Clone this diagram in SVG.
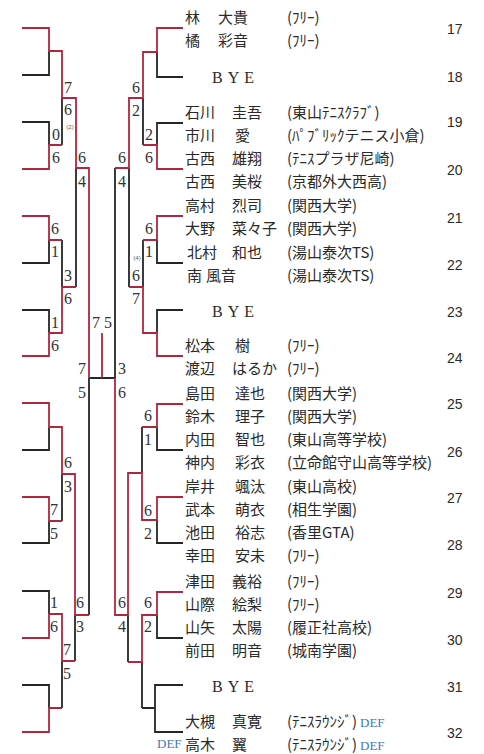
<svg xmlns="http://www.w3.org/2000/svg" width="484" height="754" viewBox="0 0 484 754">
<style>
.k{fill:none;stroke:#262626;stroke-width:1.8}
.r{fill:none;stroke:#b0263f;stroke-width:1.8}
.s{font-family:"Liberation Serif",serif;font-size:16px;fill:#333;text-anchor:middle}
.t{font-family:"Liberation Sans",sans-serif;font-size:6px;fill:#555;text-anchor:middle}
.n{font-family:"Noto Sans CJK JP",sans-serif;font-size:15px;fill:#2a2a2a}
.b{font-family:"Liberation Serif","Noto Sans CJK JP",serif;font-size:16px;fill:#2a2a2a;letter-spacing:5px}
.no{font-family:"Liberation Sans",sans-serif;font-size:14px;fill:#2a2a2a}
.d{font-family:"Liberation Serif",serif;font-size:13px;fill:#3f7ab8}
</style>
<rect width="484" height="754" fill="#fff"/>
<g id="connectors">
<path class="k" d="M22,75H49V51 M22,122H49V145 M62,98V145 M22,263H49V240 M22,310H49V333 M62,240V287 M76,168V287 M22,450H49V427 M22,543H49V521 M62,474V521 M22,591H49V614 M22,685H49V708 M62,661V708 M75,615V661 M89,378V615 M89,378H115"/>
<path class="k" d="M183,77H157V52 M183,123H157V145 M143,98V145 M183,263H157V240 M183,310H157V333 M143,240V287 M129,168V287 M115,168V378 M183,450H157V427 M183,543H157V520 M142,427V473 M183,638H157V615 M183,685H155V732H183 M155,708H142 M142,662V708 M128,615V662"/>
<path class="r" d="M22,28H49V51H62V98H76V168H89V378 M22,169H49V145H62 M22,216H49V240H62 M22,356H49V333H62V287H76 M22,403H49V427H62V474H75V615H89 M22,497H49V521H62 M22,638H49V614H62V661H75 M22,732H49V708H62 M102,378V333"/>
<path class="r" d="M183,28H157V52H143V98H129V168H115 M183,169H157V145H143 M183,216H157V240H143 M183,356H157V333H143V287H129 M183,404H157V427H142 M183,497H157V520H142V473H128V615H115V378 M183,592H157V615H142V662H128"/>
</g>
<g id="scores">
<text class="s" x="68" y="93">7</text><text class="s" x="68" y="115">6</text><text class="t" x="70" y="129">(2)</text>
<text class="s" x="56" y="140">0</text><text class="s" x="56" y="163">6</text>
<text class="s" x="82" y="163">6</text><text class="s" x="82" y="187">4</text>
<text class="s" x="55" y="234">6</text><text class="s" x="55" y="257">1</text>
<text class="s" x="68" y="281">3</text><text class="s" x="68" y="304">6</text>
<text class="s" x="55" y="328">1</text><text class="s" x="55" y="351">6</text>
<text class="s" x="96" y="328">7</text><text class="s" x="108" y="328">5</text>
<text class="s" x="82" y="374">7</text><text class="s" x="82" y="398">5</text>
<text class="s" x="68" y="468">6</text><text class="s" x="68" y="492">3</text>
<text class="s" x="54" y="515">7</text><text class="s" x="54" y="539">5</text>
<text class="s" x="54" y="608">1</text><text class="s" x="54" y="632">6</text>
<text class="s" x="80" y="608">6</text><text class="s" x="80" y="632">3</text>
<text class="s" x="67" y="655">7</text><text class="s" x="67" y="679">5</text>
<text class="s" x="136" y="93">6</text><text class="s" x="136" y="116">2</text>
<text class="s" x="149" y="140">2</text><text class="s" x="149" y="163">6</text>
<text class="s" x="122" y="163">6</text><text class="s" x="122" y="187">4</text>
<text class="s" x="149" y="234">6</text><text class="s" x="149" y="257">1</text>
<text class="t" x="137" y="260">(4)</text>
<text class="s" x="136" y="281">6</text><text class="s" x="136" y="304">7</text>
<text class="s" x="122" y="374">3</text><text class="s" x="122" y="398">6</text>
<text class="s" x="148" y="421">6</text><text class="s" x="148" y="445">1</text>
<text class="s" x="148" y="516">6</text><text class="s" x="148" y="539">2</text>
<text class="s" x="122" y="608">6</text><text class="s" x="122" y="632">4</text>
<text class="s" x="148" y="608">6</text><text class="s" x="148" y="632">2</text>
</g>
<g id="team17">
<text class="n" x="185" y="23">林<tspan x="218">大貴</tspan><tspan x="287">(ﾌﾘｰ)</tspan></text>
<text class="n" x="185" y="46">橘<tspan x="218">彩音</tspan><tspan x="287">(ﾌﾘｰ)</tspan></text>
<text class="no" x="447" y="34">17</text>
</g>
<g id="team18"><text class="b" x="212" y="83">BYE</text><text class="no" x="447" y="82">18</text></g>
<g id="team19">
<text class="n" x="185" y="118">石川<tspan x="232">圭吾</tspan><tspan x="287">(東山ﾃﾆｽｸﾗﾌﾞ)</tspan></text>
<text class="n" x="185" y="141">市川<tspan x="235">愛</tspan><tspan x="287">(ﾊﾟﾌﾞﾘｯｸテニス小倉)</tspan></text>
<text class="no" x="447" y="127">19</text>
</g>
<g id="team20">
<text class="n" x="185" y="164">古西<tspan x="232">雄翔</tspan><tspan x="287">(ﾃﾆｽプラザ尼崎)</tspan></text>
<text class="n" x="185" y="187">古西<tspan x="232">美桜</tspan><tspan x="287">(京都外大西高)</tspan></text>
<text class="no" x="447" y="175">20</text>
</g>
<g id="team21">
<text class="n" x="185" y="211">高村<tspan x="232">烈司</tspan><tspan x="287">(関西大学)</tspan></text>
<text class="n" x="185" y="234">大野<tspan x="232">菜々子</tspan><tspan x="287">(関西大学)</tspan></text>
<text class="no" x="447" y="223">21</text>
</g>
<g id="team22">
<text class="n" x="187" y="258">北村<tspan x="232">和也</tspan><tspan x="287">(湯山泰次TS)</tspan></text>
<text class="n" x="187" y="281">南<tspan x="206">風音</tspan><tspan x="287">(湯山泰次TS)</tspan></text>
<text class="no" x="447" y="270">22</text>
</g>
<g id="team23"><text class="b" x="212" y="317">BYE</text><text class="no" x="447" y="317">23</text></g>
<g id="team24">
<text class="n" x="185" y="351">松本<tspan x="235">樹</tspan><tspan x="287">(ﾌﾘｰ)</tspan></text>
<text class="n" x="185" y="374">渡辺<tspan x="232">はるか</tspan><tspan x="287">(ﾌﾘｰ)</tspan></text>
<text class="no" x="447" y="363">24</text>
</g>
<g id="team25">
<text class="n" x="185" y="399">島田<tspan x="235">達也</tspan><tspan x="287">(関西大学)</tspan></text>
<text class="n" x="185" y="422">鈴木<tspan x="235">理子</tspan><tspan x="287">(関西大学)</tspan></text>
<text class="no" x="447" y="409">25</text>
</g>
<g id="team26">
<text class="n" x="185" y="445">内田<tspan x="235">智也</tspan><tspan x="287">(東山高等学校)</tspan></text>
<text class="n" x="185" y="468">神内<tspan x="235">彩衣</tspan><tspan x="287">(立命館守山高等学校)</tspan></text>
<text class="no" x="447" y="457">26</text>
</g>
<g id="team27">
<text class="n" x="185" y="492">岸井<tspan x="235">颯汰</tspan><tspan x="287">(東山高校)</tspan></text>
<text class="n" x="185" y="515">武本<tspan x="235">萌衣</tspan><tspan x="287">(相生学園)</tspan></text>
<text class="no" x="447" y="503">27</text>
</g>
<g id="team28">
<text class="n" x="185" y="538">池田<tspan x="235">裕志</tspan><tspan x="287">(香里GTA)</tspan></text>
<text class="n" x="185" y="561">幸田<tspan x="235">安未</tspan><tspan x="287">(ﾌﾘｰ)</tspan></text>
<text class="no" x="447" y="550">28</text>
</g>
<g id="team29">
<text class="n" x="185" y="587">津田<tspan x="232">義裕</tspan><tspan x="287">(ﾌﾘｰ)</tspan></text>
<text class="n" x="185" y="610">山際<tspan x="232">絵梨</tspan><tspan x="287">(ﾌﾘｰ)</tspan></text>
<text class="no" x="447" y="598">29</text>
</g>
<g id="team30">
<text class="n" x="185" y="633">山矢<tspan x="232">太陽</tspan><tspan x="287">(履正社高校)</tspan></text>
<text class="n" x="185" y="656">前田<tspan x="232">明音</tspan><tspan x="287">(城南学園)</tspan></text>
<text class="no" x="447" y="645">30</text>
</g>
<g id="team31"><text class="b" x="212" y="692">BYE</text><text class="no" x="447" y="692">31</text></g>
<g id="team32">
<text class="n" x="185" y="727">大槻<tspan x="232">真寛</tspan><tspan x="287">(ﾃﾆｽﾗｳﾝｼﾞ)</tspan><tspan class="d" x="360">DEF</tspan></text>
<text class="n" x="185" y="750">高木<tspan x="232">翼</tspan><tspan x="287">(ﾃﾆｽﾗｳﾝｼﾞ)</tspan><tspan class="d" x="360">DEF</tspan></text>
<text class="d" x="157" y="748">DEF</text>
<text class="no" x="447" y="738">32</text>
</g>
</svg>
